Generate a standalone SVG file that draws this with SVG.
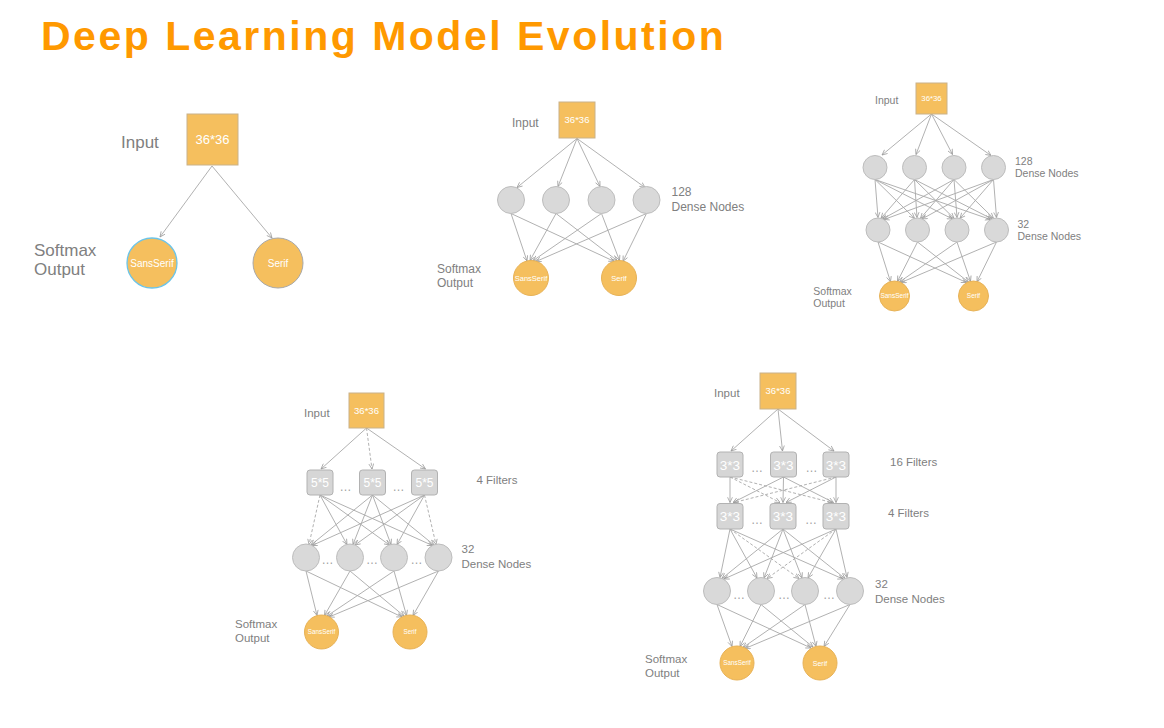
<svg xmlns="http://www.w3.org/2000/svg" width="1164" height="728" viewBox="0 0 1164 728">
<defs>
<marker id="ah" viewBox="0 0 8 8" refX="7.5" refY="4" markerWidth="6" markerHeight="6" orient="auto" markerUnits="userSpaceOnUse">
<path d="M0.5,0.8 L7.5,4 L0.5,7.2" fill="none" stroke="#9a9a9a" stroke-width="1"/>
</marker>
<style>
text{font-family:"Liberation Sans",Arial,sans-serif}
.title{font-size:41px;font-weight:bold;fill:#FF9900;letter-spacing:2.5px}
.lbl{fill:#808080}
.wt{fill:#ffffff;text-anchor:middle}
.dots{fill:#a0a0a0;text-anchor:middle;font-size:12px}
.inp{fill:#F5BF5E;stroke:#C9B28A;stroke-width:1}
.out{fill:#F5BF5E;stroke:#E7B257;stroke-width:1}
.dn{fill:#D9D9D9;stroke:#BDBDBD;stroke-width:1}
.flt{fill:#D6D6D6;stroke:#B2B2B2;stroke-width:1}
.c line{stroke:#A8A8A8;stroke-width:0.9;marker-end:url(#ah)}
.c line.d{stroke-dasharray:3 2}
</style>
</defs>
<rect width="1164" height="728" fill="#ffffff"/>
<text class="title" x="41" y="50">Deep Learning Model Evolution</text>

<!-- ===== Diagram 1 ===== -->
<g id="connectors1" class="c">
<line x1="212" y1="166" x2="160" y2="237"/>
<line x1="212" y1="166" x2="272" y2="238"/>
</g>
<g id="d1-input"><rect class="inp" x="187" y="114" width="51" height="51"/><text class="wt" x="212.5" y="144" font-size="13">36*36</text></g>
<g id="d1-ss"><circle cx="152" cy="263" r="25" fill="#F5BF5E" stroke="#6CC4E8" stroke-width="1.3"/><text class="wt" x="152" y="266.5" font-size="10">SansSerif</text></g>
<g id="d1-serif"><circle cx="278" cy="263" r="25" fill="#F5BF5E" stroke="#A8A8A8" stroke-width="1"/><text class="wt" x="278" y="266.5" font-size="10">Serif</text></g>
<g id="d1-labels" class="lbl" font-size="17">
<text x="121" y="148">Input</text>
<text x="34" y="255.5">Softmax</text>
<text x="34" y="274.5">Output</text>
</g>

<!-- ===== Diagram 2 ===== -->
<g id="connectors2" class="c">
<line x1="577" y1="138.5" x2="517" y2="187.5"/>
<line x1="577" y1="138.5" x2="558" y2="186.5"/>
<line x1="577" y1="138.5" x2="600" y2="186.5"/>
<line x1="577" y1="138.5" x2="645" y2="187.5"/>
<line x1="511" y1="213.5" x2="527" y2="261"/>
<line x1="556" y1="213.5" x2="530" y2="260.5"/>
<line x1="601.5" y1="213.5" x2="533" y2="260.7"/>
<line x1="646.5" y1="213.5" x2="536" y2="261.5"/>
<line x1="511" y1="213.5" x2="614" y2="261.3"/>
<line x1="556" y1="213.5" x2="617" y2="260.5"/>
<line x1="601.5" y1="213.5" x2="619.5" y2="260.5"/>
<line x1="646.5" y1="213.5" x2="623" y2="261.3"/>
</g>
<g id="d2-input"><rect class="inp" x="559" y="102" width="36" height="36"/><text class="wt" x="577" y="123" font-size="9.5">36*36</text></g>
<g id="d2-h1"><circle class="dn" cx="511" cy="200" r="13.5"/></g>
<g id="d2-h2"><circle class="dn" cx="556" cy="200" r="13.5"/></g>
<g id="d2-h3"><circle class="dn" cx="601.5" cy="200" r="13.5"/></g>
<g id="d2-h4"><circle class="dn" cx="646.5" cy="200" r="13.5"/></g>
<g id="d2-ss"><circle class="out" cx="531" cy="278" r="17.5"/><text class="wt" x="531" y="280.5" font-size="7.5">SansSerif</text></g>
<g id="d2-serif"><circle class="out" cx="619" cy="278" r="17.5"/><text class="wt" x="619" y="280.5" font-size="7.5">Serif</text></g>
<g id="d2-labels" class="lbl" font-size="12">
<text x="512" y="127">Input</text>
<text x="671.5" y="196">128</text>
<text x="671.5" y="210.7">Dense Nodes</text>
<text x="437" y="272.5">Softmax</text>
<text x="437" y="287">Output</text>
</g>

<!-- ===== Diagram 3 ===== -->
<g id="connectors3" class="c">
<line x1="931.5" y1="114" x2="882" y2="155"/>
<line x1="931.5" y1="114" x2="916" y2="154.5"/>
<line x1="931.5" y1="114" x2="952.5" y2="154.5"/>
<line x1="931.5" y1="114" x2="991" y2="155.5"/>
<line x1="875" y1="179.5" x2="878" y2="217.5"/>
<line x1="875" y1="179.5" x2="914.5" y2="218.3"/>
<line x1="875" y1="179.5" x2="952.5" y2="219"/>
<line x1="875" y1="179.5" x2="990.5" y2="219.5"/>
<line x1="914.5" y1="179.5" x2="881" y2="218.3"/>
<line x1="914.5" y1="179.5" x2="917" y2="217.5"/>
<line x1="914.5" y1="179.5" x2="954" y2="218.3"/>
<line x1="914.5" y1="179.5" x2="992" y2="219"/>
<line x1="954" y1="179.5" x2="882.5" y2="219"/>
<line x1="954" y1="179.5" x2="920.5" y2="218.3"/>
<line x1="954" y1="179.5" x2="957" y2="217.5"/>
<line x1="954" y1="179.5" x2="993.5" y2="218.3"/>
<line x1="993.5" y1="179.5" x2="884" y2="219.5"/>
<line x1="993.5" y1="179.5" x2="922" y2="219"/>
<line x1="993.5" y1="179.5" x2="960" y2="218.3"/>
<line x1="993.5" y1="179.5" x2="996.5" y2="217.5"/>
<line x1="878" y1="242" x2="890.5" y2="281.8"/>
<line x1="917.5" y1="242" x2="897.5" y2="281.3"/>
<line x1="957" y1="242" x2="899.5" y2="282"/>
<line x1="996.5" y1="242" x2="901" y2="282.5"/>
<line x1="878" y1="242" x2="966.5" y2="282.5"/>
<line x1="917.5" y1="242" x2="968.5" y2="282"/>
<line x1="957" y1="242" x2="970.5" y2="281.3"/>
<line x1="996.5" y1="242" x2="977" y2="281.8"/>
</g>
<g id="d3-input"><rect class="inp" x="916" y="83" width="31" height="31"/><text class="wt" x="931.5" y="101" font-size="7.8">36*36</text></g>
<g id="d3-a1"><circle class="dn" cx="875" cy="167.5" r="12"/></g>
<g id="d3-a2"><circle class="dn" cx="914.5" cy="167.5" r="12"/></g>
<g id="d3-a3"><circle class="dn" cx="954" cy="167.5" r="12"/></g>
<g id="d3-a4"><circle class="dn" cx="993.5" cy="167.5" r="12"/></g>
<g id="d3-b1"><circle class="dn" cx="878" cy="230" r="12"/></g>
<g id="d3-b2"><circle class="dn" cx="917.5" cy="230" r="12"/></g>
<g id="d3-b3"><circle class="dn" cx="957" cy="230" r="12"/></g>
<g id="d3-b4"><circle class="dn" cx="996.5" cy="230" r="12"/></g>
<g id="d3-ss"><circle class="out" cx="894.5" cy="296" r="15"/><text class="wt" x="894.5" y="298.3" font-size="6.5">SansSerif</text></g>
<g id="d3-serif"><circle class="out" cx="973.5" cy="296" r="15"/><text class="wt" x="973.5" y="298.3" font-size="6.5">Serif</text></g>
<g id="d3-labels" class="lbl" font-size="10.5">
<text x="875" y="104">Input</text>
<text x="1015" y="165">128</text>
<text x="1015" y="176.7">Dense Nodes</text>
<text x="1017.5" y="228.3">32</text>
<text x="1017.5" y="239.5">Dense Nodes</text>
<text x="813.3" y="295">Softmax</text>
<text x="813.3" y="306.5">Output</text>
</g>

<!-- ===== Diagram 4 ===== -->
<g id="connectors4" class="c">
<line x1="366.5" y1="428" x2="321" y2="469"/>
<line class="d" x1="366.5" y1="428" x2="372" y2="469"/>
<line x1="366.5" y1="428" x2="425.5" y2="469"/>
<line class="d" x1="320" y1="495" x2="309" y2="544.5"/>
<line x1="320" y1="495" x2="347" y2="544.5"/>
<line x1="320" y1="495" x2="389.5" y2="545"/>
<line x1="320" y1="495" x2="432.5" y2="545.5"/>
<line x1="372.5" y1="495" x2="311" y2="545"/>
<line x1="372.5" y1="495" x2="353" y2="544.5"/>
<line x1="372.5" y1="495" x2="391" y2="544.5"/>
<line x1="372.5" y1="495" x2="434" y2="545"/>
<line x1="424.5" y1="495" x2="312" y2="545.5"/>
<line x1="424.5" y1="495" x2="355" y2="545"/>
<line x1="424.5" y1="495" x2="397" y2="544.5"/>
<line class="d" x1="424.5" y1="495" x2="436" y2="544.5"/>
<line x1="306" y1="571" x2="317" y2="615.5"/>
<line x1="350" y1="571" x2="324.5" y2="615.5"/>
<line x1="394" y1="571" x2="327" y2="616"/>
<line x1="438.5" y1="571" x2="329" y2="617"/>
<line x1="306" y1="571" x2="402" y2="617"/>
<line x1="350" y1="571" x2="404" y2="616"/>
<line x1="394" y1="571" x2="406.5" y2="615.5"/>
<line x1="438.5" y1="571" x2="413" y2="615.5"/>
</g>
<g id="d4-input"><rect class="inp" x="349" y="393" width="35" height="35"/><text class="wt" x="366.5" y="414" font-size="9.5">36*36</text></g>
<g id="d4-f1"><rect class="flt" x="307" y="470" width="26" height="25" rx="3"/><text class="wt" x="320" y="487" font-size="12">5*5</text></g>
<g id="d4-f2"><rect class="flt" x="359.5" y="470" width="26" height="25" rx="3"/><text class="wt" x="372.5" y="487" font-size="12">5*5</text></g>
<g id="d4-f3"><rect class="flt" x="411.5" y="470" width="26" height="25" rx="3"/><text class="wt" x="424.5" y="487" font-size="12">5*5</text></g>
<g id="d4-h1"><circle class="dn" cx="306" cy="557.5" r="13.5"/></g>
<g id="d4-h2"><circle class="dn" cx="350" cy="557.5" r="13.5"/></g>
<g id="d4-h3"><circle class="dn" cx="394" cy="557.5" r="13.5"/></g>
<g id="d4-h4"><circle class="dn" cx="438.5" cy="557.5" r="13.5"/></g>
<g id="d4-ss"><circle class="out" cx="321.5" cy="632" r="17"/><text class="wt" x="321.5" y="634.3" font-size="6.3">SansSerif</text></g>
<g id="d4-serif"><circle class="out" cx="410" cy="632" r="17"/><text class="wt" x="410" y="634.3" font-size="6.3">Serif</text></g>
<g id="d4-dots">
<text class="dots" x="345.5" y="491">…</text>
<text class="dots" x="398.5" y="491">…</text>
<text class="dots" x="327.5" y="564">…</text>
<text class="dots" x="372" y="564">…</text>
<text class="dots" x="416.5" y="564">…</text>
</g>
<g id="d4-labels" class="lbl" font-size="11.5">
<text x="304" y="416.5">Input</text>
<text x="476.5" y="484">4 Filters</text>
<text x="461.5" y="553">32</text>
<text x="461.5" y="567.5">Dense Nodes</text>
<text x="235" y="627.5">Softmax</text>
<text x="235" y="641.5">Output</text>
</g>

<!-- ===== Diagram 5 ===== -->
<g id="connectors5" class="c">
<line x1="778" y1="409" x2="731" y2="451"/>
<line x1="778" y1="409" x2="782.5" y2="451"/>
<line x1="778" y1="409" x2="834" y2="451"/>
<line x1="730" y1="477" x2="730" y2="502.5"/>
<line class="d" x1="730" y1="477" x2="780" y2="502.5"/>
<line class="d" x1="730" y1="477" x2="832" y2="502.5"/>
<line x1="783.5" y1="477" x2="733" y2="502.5"/>
<line x1="783.5" y1="477" x2="783" y2="502.5"/>
<line x1="783.5" y1="477" x2="833.5" y2="502.5"/>
<line class="d" x1="836" y1="477" x2="734" y2="502.5"/>
<line x1="836" y1="477" x2="786" y2="502.5"/>
<line x1="836" y1="477" x2="836" y2="502.5"/>
<line x1="730" y1="529" x2="720" y2="577.5"/>
<line x1="730" y1="529" x2="757" y2="578"/>
<line class="d" x1="730" y1="529" x2="799" y2="578.5"/>
<line x1="730" y1="529" x2="843" y2="579"/>
<line x1="783" y1="529" x2="722" y2="578.5"/>
<line x1="783" y1="529" x2="764" y2="578"/>
<line x1="783" y1="529" x2="802" y2="578"/>
<line x1="783" y1="529" x2="845" y2="578.5"/>
<line x1="836" y1="529" x2="724" y2="579"/>
<line class="d" x1="836" y1="529" x2="767" y2="578.5"/>
<line x1="836" y1="529" x2="808" y2="578"/>
<line x1="836" y1="529" x2="847" y2="577.5"/>
<line x1="717" y1="604.5" x2="732" y2="646.5"/>
<line x1="761" y1="604.5" x2="740" y2="646.5"/>
<line x1="805" y1="604.5" x2="743" y2="647.5"/>
<line x1="850" y1="604.5" x2="745" y2="648.5"/>
<line x1="717" y1="604.5" x2="811" y2="648"/>
<line x1="761" y1="604.5" x2="813" y2="647"/>
<line x1="805" y1="604.5" x2="816" y2="646.5"/>
<line x1="850" y1="604.5" x2="824" y2="646.5"/>
</g>
<g id="d5-input"><rect class="inp" x="760" y="373" width="36" height="36"/><text class="wt" x="778" y="394" font-size="9.5">36*36</text></g>
<g id="d5-a1"><rect class="flt" x="717" y="452" width="26" height="25" rx="3"/><text class="wt" x="730" y="469.5" font-size="13.5">3*3</text></g>
<g id="d5-a2"><rect class="flt" x="770.5" y="452" width="26" height="25" rx="3"/><text class="wt" x="783.5" y="469.5" font-size="13.5">3*3</text></g>
<g id="d5-a3"><rect class="flt" x="823" y="452" width="26" height="25" rx="3"/><text class="wt" x="836" y="469.5" font-size="13.5">3*3</text></g>
<g id="d5-b1"><rect class="flt" x="717" y="503.5" width="26" height="25.5" rx="3"/><text class="wt" x="730" y="521" font-size="13.5">3*3</text></g>
<g id="d5-b2"><rect class="flt" x="770" y="503.5" width="26" height="25.5" rx="3"/><text class="wt" x="783" y="521" font-size="13.5">3*3</text></g>
<g id="d5-b3"><rect class="flt" x="823" y="503.5" width="26" height="25.5" rx="3"/><text class="wt" x="836" y="521" font-size="13.5">3*3</text></g>
<g id="d5-h1"><circle class="dn" cx="717" cy="591" r="13.5"/></g>
<g id="d5-h2"><circle class="dn" cx="761" cy="591" r="13.5"/></g>
<g id="d5-h3"><circle class="dn" cx="805" cy="591" r="13.5"/></g>
<g id="d5-h4"><circle class="dn" cx="850" cy="591" r="13.5"/></g>
<g id="d5-ss"><circle class="out" cx="737" cy="663" r="17"/><text class="wt" x="737" y="665.3" font-size="6.3">SansSerif</text></g>
<g id="d5-serif"><circle class="out" cx="820" cy="663" r="17"/><text class="wt" x="820" y="665.5" font-size="7">Serif</text></g>
<g id="d5-dots">
<text class="dots" x="757" y="472">…</text>
<text class="dots" x="811.5" y="472">…</text>
<text class="dots" x="757" y="524">…</text>
<text class="dots" x="811" y="524">…</text>
<text class="dots" x="739" y="599">…</text>
<text class="dots" x="784" y="599">…</text>
<text class="dots" x="829" y="599">…</text>
</g>
<g id="d5-labels" class="lbl" font-size="11.5">
<text x="714" y="397">Input</text>
<text x="890" y="465.5">16 Filters</text>
<text x="888" y="517">4 Filters</text>
<text x="875" y="588">32</text>
<text x="875" y="602.5">Dense Nodes</text>
<text x="645" y="662.5">Softmax</text>
<text x="645" y="677">Output</text>
</g>
</svg>
